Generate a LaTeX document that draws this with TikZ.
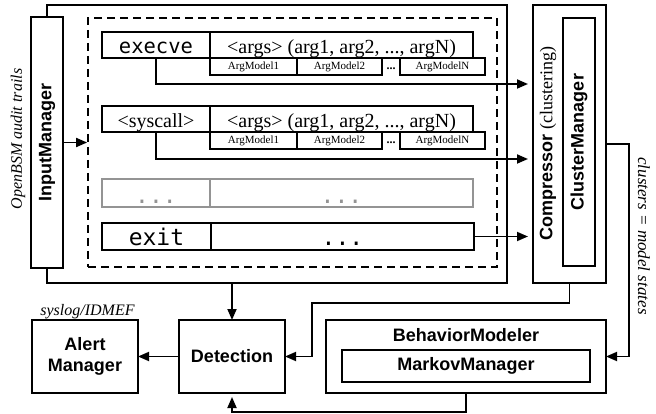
\documentclass[tikz,border=0pt]{standalone}
\usepackage{fontspec}
\setmainfont{Liberation Serif}
\setsansfont{Liberation Sans}
\setmonofont{DejaVu Sans Mono}
\usetikzlibrary{arrows.meta}
\begin{document}
\begin{tikzpicture}[x=1pt,y=-1pt,
  box/.style={draw,line width=1.8pt,fill=white,inner sep=0pt,outer sep=0pt},
  amodel/.style={draw,line width=1.4pt,fill=white,inner sep=0pt,outer sep=0pt,minimum height=17pt,font=\fontsize{11}{12}\selectfont},
  graybox/.style={draw=black!42,line width=1.6pt,inner sep=0pt,outer sep=0pt,text=black!42},
  rowtext/.style={text height=22pt,text depth=4pt},
  arr/.style={line width=1.8pt,-{Triangle[length=11pt,width=9pt]}},
  conn/.style={line width=1.8pt},
  bsf/.style={font=\fontsize{18}{21}\selectfont\sffamily\bfseries},
  serif20/.style={font=\fontsize{20}{22}\selectfont},
  mono20/.style={font=\fontsize{20.5}{22}\selectfont\ttfamily},
  mono23/.style={font=\fontsize{23}{24}\selectfont\ttfamily},
  note/.style={font=\fontsize{16}{18}\selectfont\itshape,inner sep=0pt}
]
\useasboundingbox (0,0) rectangle (656,414);

% outer frame and dashed frame
\node[draw,line width=1.8pt,inner sep=0pt,minimum width=460pt,minimum height=278pt] (frame) at (277,144) {};
\node[draw,line width=1.8pt,dash pattern=on 8pt off 5pt,inner sep=0pt,minimum width=409pt,minimum height=249pt] (dash) at (292.5,142.5) {};

% InputManager
\node[box,bsf,minimum width=32pt,minimum height=251pt] (im) at (47,142.5) {\rotatebox{90}{InputManager}};
\node[note,rotate=90,font=\fontsize{16}{18}\selectfont\itshape] (obsm) at (18,139) {OpenBSM audit trails};

% row 1: execve
\node[box,rowtext,mono20,minimum width=108pt,minimum height=26pt] (ex) at (156,45) {execve};
\node[box,rowtext,serif20,minimum width=263pt,minimum height=26pt] (exa) at (341.5,45) {<args> (arg1, arg2, ..., argN)};
\node[amodel,minimum width=87pt] (am11) at (253.5,66.5) {ArgModel1};
\node[amodel,minimum width=85pt] (am12) at (339.5,66.5) {ArgModel2};
\node[amodel,minimum width=85pt] (am1n) at (442.5,66.5) {ArgModelN};
\node[anchor=base,inner sep=0pt,font=\fontsize{12}{12}\selectfont\bfseries] (d1) at (391,70) {...};

% row 2: syscall
\node[box,rowtext,serif20,minimum width=108pt,minimum height=26pt] (sc) at (156,119) {<syscall>};
\node[box,rowtext,serif20,minimum width=263pt,minimum height=26pt] (sca) at (341.5,119) {<args> (arg1, arg2, ..., argN)};
\node[amodel,minimum width=87pt] (am21) at (253.5,140.5) {ArgModel1};
\node[amodel,minimum width=85pt] (am22) at (339.5,140.5) {ArgModel2};
\node[amodel,minimum width=85pt] (am2n) at (442.5,140.5) {ArgModelN};
\node[anchor=base,inner sep=0pt,font=\fontsize{12}{12}\selectfont\bfseries] (d2) at (391,144) {...};

% row 3: gray
\node[graybox,text height=25pt,text depth=3pt,mono23,minimum width=108pt,minimum height=28pt] (gr) at (156,193) {...};
\node[graybox,text height=25pt,text depth=3pt,mono23,minimum width=263pt,minimum height=28pt] (gra) at (341.5,193) {...};

% row 4: exit
\node[box,rowtext,mono23,minimum width=109pt,minimum height=27pt] (xt) at (156.5,236.5) {exit};
\node[box,text height=23pt,text depth=4pt,mono23,minimum width=263pt,minimum height=27pt] (xta) at (342.5,236.5) {...};

% Compressor
\node[box,minimum width=73pt,minimum height=278pt] (comp) at (569.5,144) {};
\node[rotate=90,inner sep=0pt] (complabel) at (548,143.5) {\fontsize{18}{21}\selectfont\sffamily\bfseries Compressor \rmfamily\mdseries(clustering)};
\node[box,bsf,minimum width=32pt,minimum height=248pt] (cm) at (579,142) {\rotatebox{90}{ClusterManager}};
\node[note,rotate=-90,font=\fontsize{17}{18}\selectfont\itshape] (cms) at (644,236) {clusters = model states};

% bottom row
\node[box,bsf,align=center,minimum width=106pt,minimum height=73pt] (alert) at (85,356.5) {Alert\\Manager};
\node[note,anchor=base] (syslog) at (87.5,315) {syslog/IDMEF};
\node[box,bsf,minimum width=106pt,minimum height=73pt] (det) at (232,356.5) {Detection};
\node[box,minimum width=280pt,minimum height=73pt] (bm) at (466,356.5) {};
\node[bsf,inner sep=0pt] (bmlabel) at (466,335.5) {BehaviorModeler};
\node[box,bsf,minimum width=248pt,minimum height=32pt] (mm) at (466,366) {MarkovManager};

% connectors
\coordinate (y1) at (0,84);
\coordinate (y2) at (0,159);
\coordinate (k4) at (312,303);
\coordinate (k5) at (629,0);
\coordinate (k6) at (0,412);

\draw[arr] (im.east) -- (dash.west);
\draw[arr,shorten >=5pt] (ex.south) |- (comp.west |- y1);
\draw[arr,shorten >=5pt] (sc.south) |- (comp.west |- y2);
\draw[arr,shorten >=5pt] (xta.east) -- (xta.east -| comp.west);
\draw[arr] (det.north |- frame.south) -- (det.north);
\draw[arr] (det.west) -- (alert.east);
\draw[arr] (comp.south) |- (k4) |- (det.east);
\draw[arr,shorten >=4pt] (bm.south) |- (det.south |- k6) -- (det.south);
\draw[arr] (comp.east) -| (k5 |- bm.east) -- (bm.east);
\end{tikzpicture}
\end{document}
